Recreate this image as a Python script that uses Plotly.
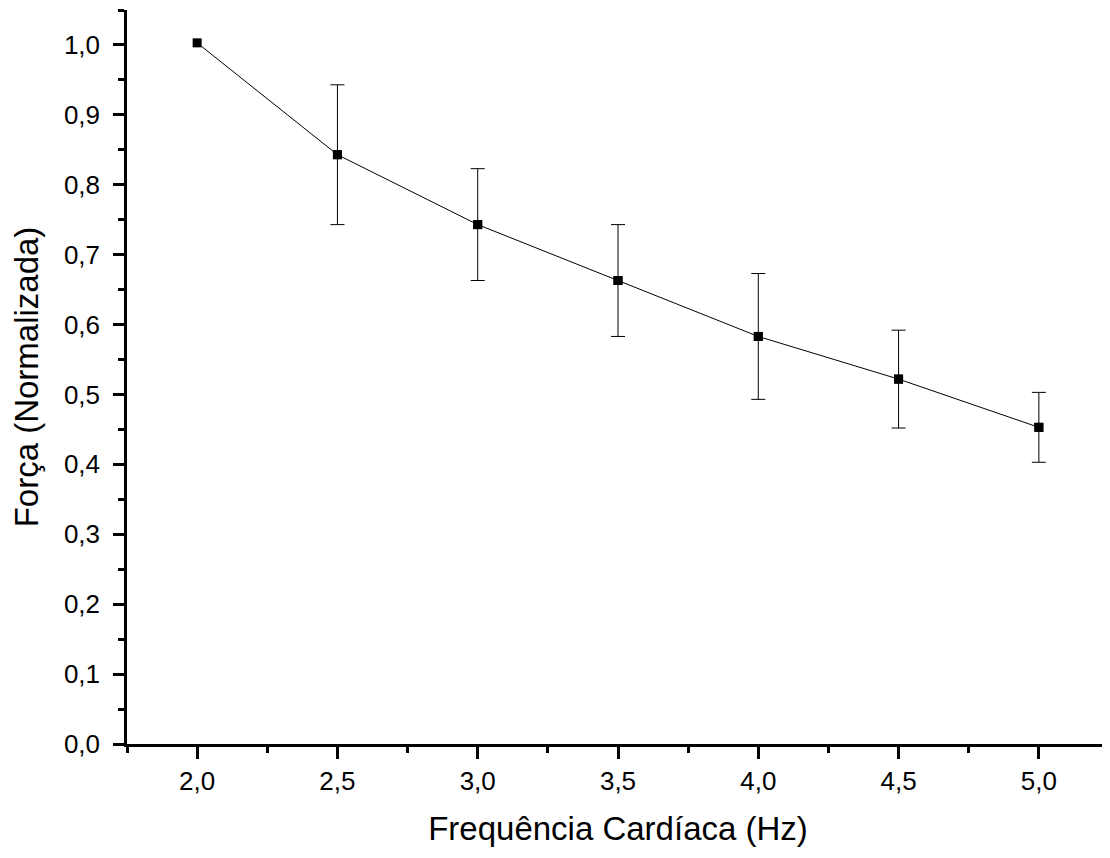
import plotly.graph_objects as go

freq = [2.0, 2.5, 3.0, 3.5, 4.0, 4.5, 5.0]
force = [1.003, 0.843, 0.743, 0.663, 0.583, 0.522, 0.453]
err = [None, 0.10, 0.08, 0.08, 0.09, 0.07, 0.05]

ex = [x for x, e in zip(freq, err) if e is not None]
ey = [y for y, e in zip(force, err) if e is not None]
ee = [e for e in err if e is not None]

fig = go.Figure()
fig.add_trace(go.Scatter(
    x=ex, y=ey, mode="markers",
    marker=dict(symbol="square", size=9, color="black"),
    error_y=dict(type="data", array=ee, visible=True, color="black",
                 thickness=1, width=7),
    showlegend=False, hoverinfo="skip",
))
fig.add_trace(go.Scatter(
    x=freq, y=force,
    mode="lines+markers",
    line=dict(color="black", width=1),
    marker=dict(symbol="square", size=9, color="black"),
    showlegend=False,
))

font_family = "Liberation Sans"
fig.update_layout(
    width=1102, height=850,
    margin=dict(l=119, r=1, t=2, b=114),
    plot_bgcolor="white", paper_bgcolor="white",
    separators=",.",
    font=dict(family=font_family, color="black"),
)
fig.update_xaxes(
    range=[1.75, 5.25], tick0=2.0, dtick=0.5, tickformat=".1f",
    showgrid=False, zeroline=False,
    showline=True, linecolor="black", linewidth=2.5,
    ticks="outside", ticklen=12, tickwidth=2.5, tickcolor="black",
    minor=dict(dtick=0.25, tick0=1.75, ticks="outside", ticklen=6, tickwidth=2.5, tickcolor="black", showgrid=False),
    tickfont=dict(size=26, family=font_family),
    ticklabelstandoff=0,
    title=dict(text="Frequência Cardíaca (Hz)", font=dict(size=33, family=font_family), standoff=22),
)
fig.update_yaxes(
    range=[0, 1.05], tick0=0, dtick=0.1, tickformat=".1f",
    showgrid=False, zeroline=False,
    showline=True, linecolor="black", linewidth=2.5,
    ticks="outside", ticklen=11, tickwidth=2.5, tickcolor="black",
    minor=dict(dtick=0.05, tick0=0, ticks="outside", ticklen=6, tickwidth=2.5, tickcolor="black", showgrid=False),
    tickfont=dict(size=26, family=font_family),
    ticklabelstandoff=8,
    title=dict(text="Força (Normalizada)", font=dict(size=33, family=font_family), standoff=16),
)

fig.write_html("out.html")
